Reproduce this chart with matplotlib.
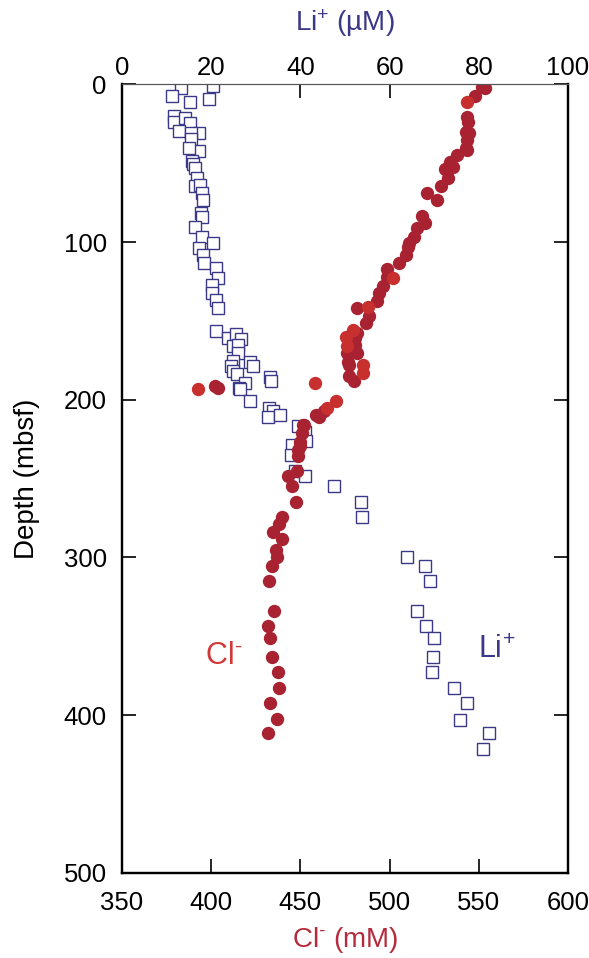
import matplotlib
matplotlib.use("Agg")
import matplotlib.pyplot as plt

plt.rcParams['font.family'] = ['Liberation Sans', 'DejaVu Sans']
plt.rcParams['mathtext.fontset'] = 'custom'
plt.rcParams['mathtext.rm'] = 'Liberation Sans'
plt.rcParams['mathtext.it'] = 'Liberation Sans:italic'
plt.rcParams['mathtext.bf'] = 'Liberation Sans:bold'

# Chloride (mM) vs depth (mbsf), main set
cl_conc = [553.5, 552.0, 547.7, 543.4, 544.2, 542.7, 544.5, 543.4, 542.7, 543.4,
           538.0, 533.9, 535.7, 531.0, 532.9, 528.8, 521.1, 526.7, 518.3, 519.8,
           515.1, 513.8, 511.0, 510.1, 509.0, 505.5, 498.8, 498.8, 496.2, 494.3,
           492.8, 481.9, 488.6, 486.8, 481.9, 480.6, 480.6, 476.0, 481.9, 476.9,
           477.5, 477.5, 480.1, 402.2, 404.0, 458.8, 451.7, 450.8, 449.8, 448.9,
           448.6, 463.3, 460.4, 452.0, 449.6, 447.9, 443.3, 445.4, 447.6, 439.5,
           438.2, 434.8, 439.9, 436.3, 437.1, 433.9, 432.5, 435.2, 431.7, 433.1,
           434.1, 437.4, 437.8, 432.8, 436.7, 431.7]
cl_depth = [2.4, 1.4, 7.3, 20.4, 23.6, 29.9, 31.0, 35.2, 40.5, 41.5,
            44.7, 49.0, 52.1, 53.8, 59.5, 64.4, 69.0, 73.3, 83.4, 88.1,
            90.8, 96.6, 100.8, 102.9, 108.2, 113.0, 117.3, 121.9, 127.8, 132.5,
            137.4, 142.0, 146.9, 151.1, 157.9, 161.0, 165.3, 170.5, 170.5, 175.8,
            178.0, 184.9, 187.9, 191.3, 192.7, 209.7, 216.0, 220.9, 226.6, 231.9,
            235.7, 207.0, 210.7, 216.0, 229.4, 245.0, 248.2, 254.9, 264.7, 274.2,
            279.1, 284.1, 288.6, 295.3, 299.6, 305.3, 315.0, 333.9, 343.6, 350.8,
            363.1, 372.6, 382.5, 392.3, 402.6, 411.3]

# Chloride, second set
cl2_conc = [543.4, 501.8, 487.7, 479.4, 475.6, 476.0, 485.3, 485.3, 469.9, 392.4,
            458.3, 465.2]
cl2_depth = [10.9, 123.0, 141.4, 155.8, 160.4, 165.9, 178.0, 182.8, 200.8, 193.2,
             189.6, 205.5]

# Lithium (uM) vs depth (mbsf)
li_conc = [13.2, 20.3, 11.3, 15.2, 19.5, 11.6, 11.6, 14.1, 15.3, 12.7,
           17.2, 15.4, 15.4, 17.2, 15.0, 15.7, 15.9, 16.4, 16.9, 16.3,
           17.5, 18.0, 18.2, 17.8, 17.9, 16.4, 17.9, 20.5, 17.3, 18.2,
           18.3, 21.0, 21.5, 20.2, 20.2, 21.1, 21.5, 21.1, 23.7, 25.6,
           26.7, 25.0, 26.1, 26.1, 24.8, 24.4, 28.7, 29.3, 24.8, 25.9,
           27.5, 26.2, 26.5, 33.3, 33.4, 28.8, 32.9, 33.8, 32.7, 35.5,
           39.4, 41.0, 41.3, 38.2, 38.0, 38.9, 41.0, 47.5, 53.7, 53.9,
           63.8, 67.9, 69.0, 66.1, 68.2, 70.0, 69.7, 69.6, 74.4, 77.3,
           75.9, 82.3, 81.0]
li_depth = [2.4, 1.0, 7.3, 10.9, 9.4, 20.0, 23.6, 21.4, 24.2, 29.5,
            30.6, 31.0, 34.8, 42.2, 40.1, 48.5, 50.6, 53.2, 59.1, 64.4,
            63.8, 68.7, 73.3, 81.7, 83.9, 90.2, 96.6, 100.8, 103.6, 108.2,
            113.1, 116.6, 122.6, 127.2, 132.1, 136.7, 141.6, 156.2, 160.7, 158.3,
            161.3, 165.9, 165.3, 170.6, 175.3, 178.6, 175.9, 178.6, 181.6, 183.7,
            189.6, 192.8, 193.2, 185.4, 188.1, 200.8, 205.1, 207.0, 210.8, 209.7,
            216.5, 220.3, 226.2, 228.7, 235.1, 245.1, 248.2, 254.9, 264.7, 274.4,
            299.6, 305.3, 315.0, 333.9, 343.8, 351.0, 363.1, 372.8, 382.5, 392.4,
            402.8, 411.3, 421.2]

cl_ticks = [350, 400, 450, 500, 550, 600]
li_ticks = [0, 20, 40, 60, 80, 100]
depth_ticks = [0, 100, 200, 300, 400, 500]

CL_DARK = '#a82232'
CL_BRIGHT = '#c7302f'
LI_COLOR = '#3b3887'
CL_LABEL = '#b52a3c'

fig = plt.figure(figsize=(5.89, 9.58), dpi=100)
ax = fig.add_axes([0.2071, 0.0890, 0.7572, 0.8228])
ax2 = ax.twiny()

# Lithium on the top axis, drawn underneath the chloride points
ax2.plot(li_conc, li_depth, linestyle='none', marker='s', markersize=8.6,
         markerfacecolor='white', markeredgecolor=LI_COLOR, markeredgewidth=1.0)
ax2.set_xlim(0, 100)

ax.plot(cl_conc, cl_depth, linestyle='none', marker='o', markersize=9.6,
        markerfacecolor=CL_DARK, markeredgecolor='none')
ax.plot(cl2_conc, cl2_depth, linestyle='none', marker='o', markersize=9.6,
        markerfacecolor=CL_BRIGHT, markeredgecolor='none')
ax.set_zorder(ax2.get_zorder() + 1)
ax.patch.set_visible(False)

ax.set_xlim(350, 600)
ax.set_ylim(500, 0)
ax.set_xticks(cl_ticks)
ax.set_yticks(depth_ticks)
ax2.set_xticks(li_ticks)

ax.tick_params(axis='x', direction='in', length=10, width=1.2, labelsize=18.5, pad=13)
ax.tick_params(axis='y', direction='in', length=10, width=1.2, labelsize=18.5, pad=11,
               right=True)
ax2.tick_params(axis='x', direction='in', length=10, width=1.2, labelsize=18.5, pad=3)

for a in (ax, ax2):
    for side in ('left', 'bottom', 'right'):
        a.spines[side].set_linewidth(1.6)
        a.spines[side].set_color('black')
    a.spines['top'].set_linewidth(0.8)
    a.spines['top'].set_color('#555555')

ax.set_xlabel(r'Cl$^{\text{-}}$ (mM)', fontsize=20, color=CL_LABEL, labelpad=7)
ax.set_ylabel('Depth (mbsf)', fontsize=20, labelpad=17)
ax2.set_xlabel(r'Li$^{+}$ (µM)', fontsize=20, color=LI_COLOR, labelpad=18)

ax.text(396.5, 367.7, r'Cl$^{\text{-}}$', fontsize=22, color='#d13838',
        ha='left', va='baseline')
ax.text(549.4, 363.7, r'Li$^{+}$', fontsize=22, color=LI_COLOR,
        ha='left', va='baseline')

fig.savefig('out.png', dpi=100)
